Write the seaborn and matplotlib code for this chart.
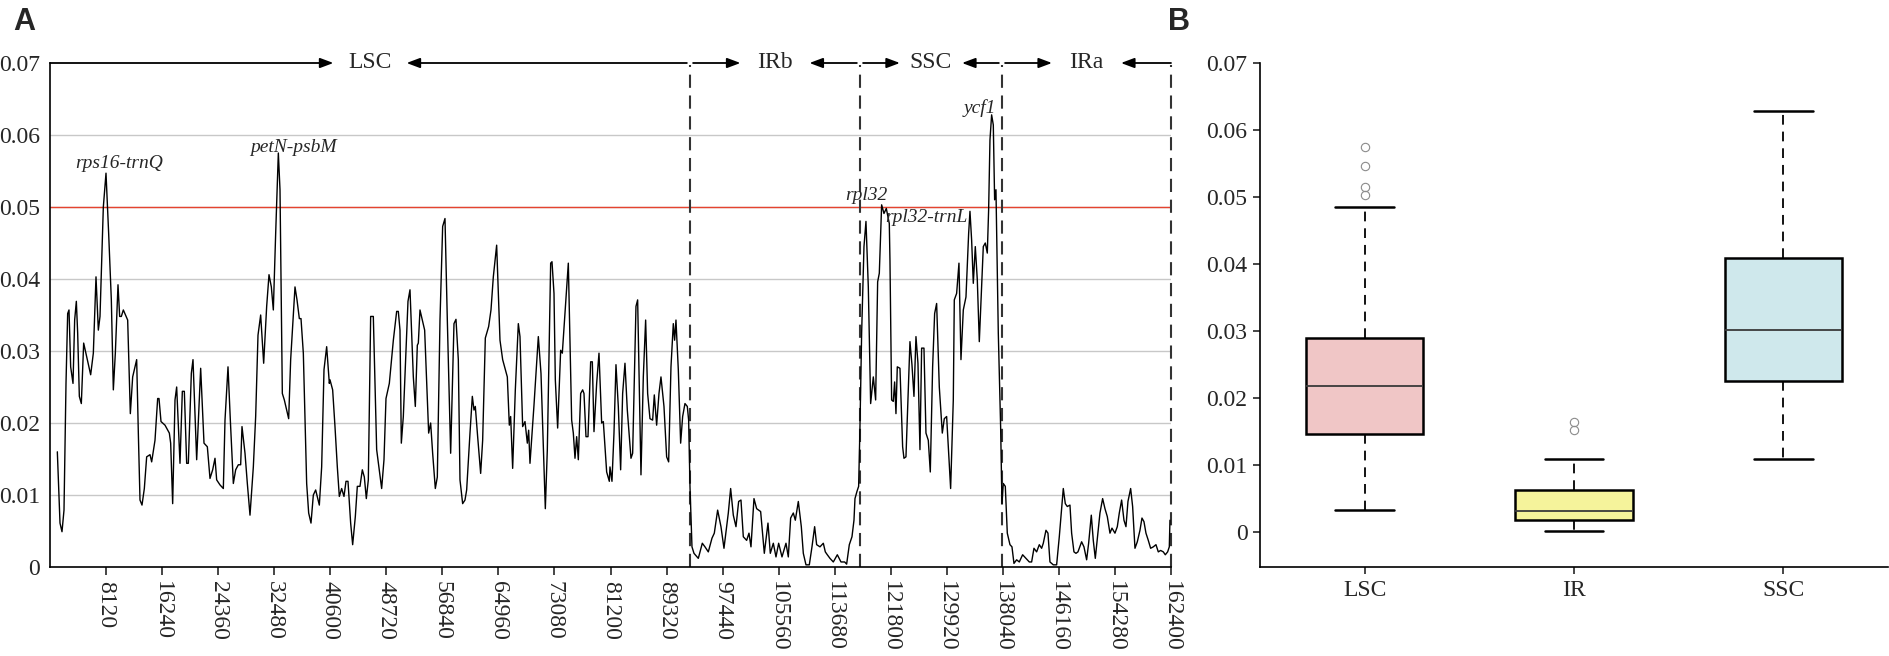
import numpy as np
import pandas as pd
import matplotlib
matplotlib.use("Agg")
import matplotlib.pyplot as plt
import seaborn as sb

# sliding window nucleotide diversity (Pi) along the plastome
lsc_pos = [1062, 1449, 1738, 2028, 2318, 2559, 2752, 2994, 3332, 3573, 3815, 4008, 4250, 4539,
           4877, 5312, 5891, 6278, 6664, 7002, 7244, 7726, 8113, 8499, 8885, 9175, 9465, 9851,
           10093, 10334, 10624, 11252, 11638, 11976, 12555, 12797, 13038, 13328, 13666, 14004,
           14487, 14728, 15211, 15598, 15791, 16081, 16660, 17288, 17481, 17771, 18109, 18350,
           18833, 19171, 19461, 19799, 20040, 20475, 20716, 21248, 21827, 22310, 22793, 23179,
           23566, 23904, 24145, 24628, 25111, 25352, 25787, 26125, 26560, 26898, 27284, 27622,
           27815, 28250, 28588, 28974, 29457, 29795, 30133, 30519, 30954, 31389, 31727, 32065,
           32354, 32692, 33079, 33320, 33658, 33948, 34576, 34865, 35493, 35783, 36121, 36362,
           36700, 37183, 37473, 37811, 38149, 38487, 39018, 39356, 39694, 40081, 40467,
           40562, 40948, 41286, 41624, 41914, 42252, 42590, 42880, 43170, 43556, 43846, 44232,
           44522, 44908, 45246, 45536, 45826, 46115, 46453, 46840, 47323, 48047, 48385, 48675,
           49158, 49741, 50220, 50461, 50703, 50896, 51186, 51862, 52152, 52635, 52924, 53214,
           53359, 53600, 54276, 54856, 55145, 55435, 55821, 56111, 56498, 56884, 57222, 57560,
           58043, 58526, 58815, 59153, 59395, 59781, 60119, 60361, 60844, 61182, 61423, 61616,
           61954, 62389, 62679, 63065, 63548, 63886, 64224, 64707, 65190, 65576, 66252, 66542,
           66735, 67025, 67411, 67846, 68087, 68474, 68812, 69150, 69343, 69536, 70117, 70744,
           71130, 71758, 72048, 72531, 72724, 73014, 73206, 73544, 73979, 74220, 75089, 75573,
           75814, 76056, 76297, 76539, 76876, 77166, 77359, 77649, 77939, 78325, 78567, 78808,
           79195, 79533, 79919, 80160, 80643, 81029,
           81124, 81414, 81704, 81993, 82331, 82669, 82959, 83297, 83635, 83925, 84166, 84408,
           84891, 85132, 85615, 85953, 86291, 86581, 86919, 87305, 87546, 87885, 88223, 88512,
           88947, 89333, 89623, 89961, 90299, 90492, 90685, 91023, 91362, 91651, 91989, 92327,
           92520, 92714]
lsc_pi = [.0160, .0061, .0049, .0079, .0255, .0352, .0357, .0278, .0255, .0343, .0369, .0325, .0237, .0227,
          .0311, .0292, .0267, .0297, .0403, .0329, .0348, .0500, .0547, .0463, .0371, .0246, .0297, .0392,
          .0348, .0348, .0357, .0343, .0213, .0264, .0288, .0186, .0093, .0086, .0109, .0153,
          .0156, .0146, .0176, .0234, .0234, .0202, .0197, .0186, .0172, .0088, .0232, .0250,
          .0144, .0244, .0244, .0144, .0144, .0269, .0288, .0149, .0276, .0172, .0167, .0123,
          .0135, .0151, .0121, .0114, .0109, .0204, .0278, .0204, .0116, .0135, .0142, .0142,
          .0195, .0158, .0116, .0072, .0139, .0209, .0322, .0350, .0283, .0362, .0406, .0389,
          .0357, .0463, .0575, .0524, .0241, .0232, .0206, .0288, .0389, .0371, .0345, .0345,
          .0297, .0116, .0075, .0061, .0100, .0107, .0086, .0139, .0274, .0306, .0255,
          .0260, .0246, .0195, .0139, .0098, .0109, .0098, .0119, .0119, .0061, .0031, .0070,
          .0112, .0112, .0135, .0125, .0095, .0121, .0348, .0348, .0163, .0109, .0149, .0234,
          .0255, .0315, .0355, .0355, .0329, .0172, .0209, .0369, .0385, .0264, .0223, .0308,
          .0311, .0357, .0329, .0186, .0200, .0158, .0109, .0125, .0343, .0473, .0484, .0343,
          .0158, .0338, .0344, .0288, .0121, .0088, .0093, .0107, .0186, .0237, .0218, .0223,
          .0181, .0130, .0176, .0318, .0334, .0357, .0403, .0447, .0315, .0288, .0264, .0197,
          .0209, .0137, .0246, .0338, .0320, .0195, .0202, .0172, .0190, .0144, .0225, .0320,
          .0269, .0081, .0163, .0422, .0424, .0380, .0260, .0193, .0301, .0297, .0422, .0204,
          .0186, .0151, .0181, .0149, .0241, .0246, .0241, .0181, .0181, .0285, .0285, .0188,
          .0255, .0297, .0200, .0202, .0132, .0119,
          .0139, .0119, .0186, .0281, .0223, .0135, .0241, .0283, .0218, .0181, .0151, .0158,
          .0362, .0371, .0128, .0264, .0343, .0241, .0206, .0204, .0239, .0197, .0241, .0264,
          .0223, .0153, .0146, .0278, .0338, .0315, .0343, .0274, .0172, .0209, .0227, .0223,
          .0204, .0112]

irb_pos = [93004, 93293, 93921, 94500, 94887, 95370, 95901, 96239, 96722, 97204, 97639, 98267,
           98605, 98991, 99378, 99764, 100102, 100440, 100923, 101261, 101551, 101986, 102372,
           102952, 103483, 104015, 104351, 104788, 105174, 105560, 106043, 106622, 106960,
           107298, 107684, 107974, 108409, 108843, 109133, 109519, 110002, 110388, 110774,
           111064, 111547, 112030, 112320, 112610, 112996, 113479, 114060, 114590, 115121,
           115410, 115797, 116183, 116473, 116617, 116907, 117148]
irb_pi = [.0028, .0019, .0012, .0033, .0028, .0021, .0040, .0047, .0079, .0056, .0026, .0075,
          .0109, .0072, .0056, .0091, .0093, .0042, .0037, .0047, .0028, .0095, .0081,
          .0077, .0019, .0061, .0019, .0033, .0014, .0033, .0014, .0033, .0014,
          .0068, .0075, .0065, .0091, .0056, .0019, .0003, .0003, .0028, .0056,
          .0031, .0028, .0033, .0021, .0017, .0012, .0007, .0017, .0007, .0007,
          .0004, .0031, .0042, .0065, .0095, .0105, .0112]

ssc_pos = [117341, 117583, 117921, 118210, 118549, 118887, 119273, 119611, 119901, 120142,
           120480, 120818, 121156, 121590, 121686, 121927, 122169, 122362, 122555, 122748,
           123135, 123521, 123714, 124004, 124294, 124583, 124873, 125163, 125453, 125742,
           126032, 126274, 126612, 126901, 127239, 127529, 127867, 128157, 128447, 128833,
           129268, 129557, 129895, 130185, 130475, 130861, 131006, 131344, 131682, 131972,
           132310, 132697, 133083, 133276, 133517, 133759, 134048, 134338, 134628, 134917,
           135207, 135497, 135787, 135980, 136173, 136414, 136656, 136849, 137042, 137380,
           137718, 137911]
ssc_pi = [.0195, .0325, .0445, .0480, .0389, .0227, .0264, .0232, .0396, .0408,
          .0503, .0491, .0498, .0477, .0426, .0232, .0230, .0257, .0213, .0278,
          .0276, .0167, .0151, .0153, .0232, .0313, .0281, .0237, .0320, .0283,
          .0163, .0304, .0304, .0186, .0176, .0132, .0278, .0352, .0366, .0250,
          .0186, .0206, .0209, .0158, .0109, .0232, .0371, .0380, .0422, .0288,
          .0357, .0375, .0463, .0494, .0454, .0394, .0445, .0399, .0313, .0380,
          .0445, .0450, .0436, .0496, .0593, .0628, .0614, .0510, .0524, .0325,
          .0195, .0088]

ira_pos = [138105, 138395, 138684, 139071, 139360, 139650, 140036, 140422, 140905, 141388,
           141871, 142209, 142547, 142934, 143320, 143658, 143899, 144286, 144575, 144865,
           145348, 145831, 146217, 146507, 146796, 147086, 147376, 147762, 148004, 148341,
           148631, 148921, 149452, 149790, 150177, 150467, 150853, 151140, 151433, 151771,
           152109, 152495, 152834, 153172, 153558, 153848, 154281, 154621, 154910, 155248,
           155586, 155876, 156165, 156553, 156841, 157180, 157518, 157904, 158194, 158483,
           158773, 159111, 159449, 159835, 160222, 160560, 160898, 161284, 161574, 161912,
           162154, 162250]
ira_pi = [.0116, .0112, .0047, .0031, .0028, .0005, .0010, .0007, .0017, .0012,
          .0007, .0007, .0026, .0021, .0031, .0026, .0033, .0051, .0047, .0007,
          .0003, .0003, .0042, .0075, .0109, .0088, .0084, .0086, .0047, .0021,
          .0019, .0021, .0035, .0028, .0010, .0033, .0072, .0037, .0012, .0044,
          .0075, .0095, .0081, .0070, .0047, .0054, .0047, .0056, .0075, .0093,
          .0065, .0056, .0091, .0109, .0084, .0026, .0035, .0051, .0068, .0063,
          .0047, .0037, .0026, .0028, .0031, .0021, .0023, .0021, .0017, .0021,
          .0028, .0065]

# region borders of the plastome
region_names = ["LSC", "IRb", "SSC", "IRa"]
region_edges = [0, 92714, 117340, 137911, 162400]

# highly variable regions
hot_labels = ["rps16-trnQ", "petN-psbM", "rpl32", "rpl32-trnL", "ycf1"]
hot_x = [10020, 35200, 118200, 126900, 134650]
hot_y = [0.0560, 0.0582, 0.0516, 0.0485, 0.0638]

# boxplot summary per region (panel B)
box_labels = ["LSC", "IR", "SSC"]
box_q1 = [0.0146, 0.0018, 0.0225]
box_med = [0.0218, 0.0032, 0.0302]
box_q3 = [0.0289, 0.0063, 0.0409]
box_low = [0.0033, 0.0002, 0.0109]
box_high = [0.0485, 0.0109, 0.0629]
box_fliers = [[0.0503, 0.0515, 0.0547, 0.0574], [0.0152, 0.0165], []]
box_colors = ["#f0c6c6", "#f5f39b", "#cfe8ec"]

sb.set_style("white")
plt.rcParams["font.family"] = ["Liberation Serif", "DejaVu Serif"]
plt.rcParams["lines.scale_dashes"] = False

df = pd.DataFrame({"pos": lsc_pos + irb_pos + ssc_pos + ira_pos,
                   "pi": lsc_pi + irb_pi + ssc_pi + ira_pi})

fig = plt.figure(figsize=(18.9, 6.56), dpi=100)
ax1 = fig.add_axes([50 / 1890, 89 / 656, 1121 / 1890, 504 / 656])
ax2 = fig.add_axes([1260 / 1890, 89 / 656, 628 / 1890, 504 / 656])

# ---- panel A
for lev in [0.01, 0.02, 0.03, 0.04, 0.05, 0.06]:
    ax1.axhline(lev, color="#c8c8c8", lw=1.0, zorder=0)
ax1.axhline(0.05, color="#e5432f", lw=1.0, zorder=1)

sb.lineplot(data=df, x="pos", y="pi", color="black", linewidth=1.0, ax=ax1, zorder=3)

ax1.vlines(region_edges[1:], 0, 0.0697, colors="#333333", linestyles=(0, (9.5, 5.5)),
           lw=1.5, clip_on=False, zorder=2)

half = {"LSC": 5300, "IRb": 5000, "SSC": 4500, "IRa": 5000}
for i, name in enumerate(region_names):
    a, b = region_edges[i], region_edges[i + 1]
    a = a + 450 if i > 0 else a
    b = b - 450 if i < 3 else b
    c = (region_edges[i] + region_edges[i + 1]) / 2
    ax1.text(c, 0.07, name, ha="center", va="center", fontsize=17)
    for start, tip in [(a, c - half[name]), (b, c + half[name])]:
        ax1.annotate("", xy=(tip, 0.07), xytext=(start, 0.07), annotation_clip=False,
                     arrowprops=dict(arrowstyle="-|>,head_length=0.4,head_width=0.15",
                                     mutation_scale=20, color="black", lw=1.3,
                                     shrinkA=0, shrinkB=0))

for lab, x, y in zip(hot_labels, hot_x, hot_y):
    ax1.text(x, y, lab, ha="center", va="center", fontsize=14, style="italic")

ax1.set_xlim(0, 162400)
ax1.set_ylim(0, 0.07)
ax1.set_xticks(np.arange(8120, 162401, 8120))
ax1.set_xticklabels([str(v) for v in range(8120, 162401, 8120)], rotation=-90, fontsize=17)
ax1.set_yticks([0, 0.01, 0.02, 0.03, 0.04, 0.05, 0.06, 0.07])
ax1.set_yticklabels(["0", "0.01", "0.02", "0.03", "0.04", "0.05", "0.06", "0.07"], fontsize=17)
ax1.tick_params(axis="x", length=6, width=1.2, pad=4, direction="out", bottom=True)
ax1.tick_params(axis="y", length=0, pad=7, left=True)
ax1.set_xlabel("")
ax1.set_ylabel("")
for s in ["top", "right"]:
    ax1.spines[s].set_visible(False)
for s in ["left", "bottom"]:
    ax1.spines[s].set_linewidth(1.2)
    ax1.spines[s].set_color("black")

# ---- panel B
stats = []
for i in range(3):
    stats.append(dict(q1=box_q1[i], med=box_med[i], q3=box_q3[i], whislo=box_low[i],
                      whishi=box_high[i], fliers=box_fliers[i], label=box_labels[i]))
bp = ax2.bxp(stats, positions=[0, 1, 2], widths=0.56, patch_artist=True, showfliers=True,
             boxprops=dict(edgecolor="black", linewidth=1.8),
             medianprops=dict(color="#3a3a3a", linewidth=1.3),
             whiskerprops=dict(color="black", linewidth=1.3, linestyle=(0, (7, 5))),
             capprops=dict(color="black", linewidth=1.8),
             flierprops=dict(marker="o", markerfacecolor="none", markeredgecolor="#8c8c8c",
                             markersize=6, markeredgewidth=0.8))
for patch, col in zip(bp["boxes"], box_colors):
    patch.set_facecolor(col)

ax2.set_xlim(-0.5, 2.5)
ax2.set_ylim(-0.0052, 0.07)
ax2.set_xticks([0, 1, 2])
ax2.set_xticklabels(box_labels, fontsize=17)
ax2.set_yticks([0, 0.01, 0.02, 0.03, 0.04, 0.05, 0.06, 0.07])
ax2.set_yticklabels(["0", "0.01", "0.02", "0.03", "0.04", "0.05", "0.06", "0.07"], fontsize=17)
ax2.tick_params(axis="both", length=5, width=1.2, pad=4, direction="out", bottom=True, left=True)
for s in ["top", "right"]:
    ax2.spines[s].set_visible(False)
for s in ["left", "bottom"]:
    ax2.spines[s].set_linewidth(1.2)
    ax2.spines[s].set_color("black")

fig.text(13 / 1890, 1 - 7 / 656, "A", ha="left", va="top", fontsize=22, fontweight="bold",
         family=["Liberation Sans", "DejaVu Sans"])
fig.text(1168 / 1890, 1 - 7 / 656, "B", ha="left", va="top", fontsize=22, fontweight="bold",
         family=["Liberation Sans", "DejaVu Sans"])

plt.savefig("out.png", dpi=100)
